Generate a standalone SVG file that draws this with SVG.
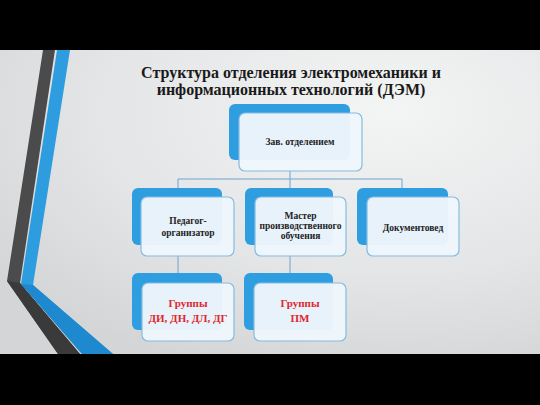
<svg xmlns="http://www.w3.org/2000/svg" width="540" height="405" viewBox="0 0 540 405">
  <defs>
    <radialGradient id="bg" cx="0.72" cy="0.2" r="0.9">
      <stop offset="0" stop-color="#f3f4f4"/>
      <stop offset="0.6" stop-color="#e4e5e6"/>
      <stop offset="1" stop-color="#d3d5d6"/>
    </radialGradient>
    <style>
      .back { fill: #2f9ee0; }
      .front { fill: #eef6fc; fill-opacity: 0.96; stroke: #86bce0; stroke-width: 1.2; }
      .conn { stroke: #6fa3cc; stroke-width: 1; fill: none; }
      .title { font-family: "Liberation Serif", "Times New Roman", serif; font-weight: bold; font-size: 16px; fill: #1a1a1a; text-anchor: middle; }
      .lbl { font-family: "Liberation Serif", "Times New Roman", serif; font-weight: bold; font-size: 9.5px; fill: #222; text-anchor: middle; }
      .red { font-family: "Liberation Serif", "Times New Roman", serif; font-weight: bold; font-size: 11px; fill: #e0262c; text-anchor: middle; }
    </style>
  </defs>
  <rect x="0" y="0" width="540" height="405" fill="#000"/>
  <rect x="0" y="50" width="540" height="304" fill="url(#bg)"/>

  <g id="decor">
    <polygon points="43,50 55,50 20,283 80,354 58,354 7,281" fill="#4b4b4b"/>
    <polygon points="7,281 20,283 80,354 58,354" fill="#3a3a3a"/>
    <polygon points="57,50 70,50 33,285 113,354 82,354 21,284" fill="#2d9de0"/>
    <polygon points="21,284 33,285 113,354 82,354" fill="#1f89cf"/>
  </g>

  <g id="title">
    <text class="title" x="291" y="78">Структура отделения электромеханики и</text>
    <text class="title" x="291" y="95">информационных технологий (ДЭМ)</text>
  </g>

  <g id="connectors">
    <line class="conn" x1="290" y1="171" x2="290" y2="188"/>
    <polyline class="conn" points="178,188 178,179 402,179 402,188"/>
    <line class="conn" x1="178" y1="256" x2="178" y2="273"/>
    <line class="conn" x1="290" y1="256" x2="290" y2="273"/>
  </g>

  <g id="head">
    <rect class="back" x="229" y="104" width="121" height="56" rx="6"/>
    <rect class="front" x="239" y="113" width="123" height="58" rx="6"/>
    <text class="lbl" x="300" y="145" font-size="10">Зав. отделением</text>
  </g>

  <g id="pedagog">
    <rect class="back" x="132" y="188" width="90" height="57" rx="6"/>
    <rect class="front" x="141" y="197" width="93" height="59" rx="6"/>
    <text class="lbl" x="188" y="224">Педагог-</text>
    <text class="lbl" x="188" y="236">организатор</text>
  </g>

  <g id="master">
    <rect class="back" x="245" y="188" width="88" height="57" rx="6"/>
    <rect class="front" x="255" y="197" width="91" height="59" rx="6"/>
    <text class="lbl" x="300.5" y="219">Мастер</text>
    <text class="lbl" x="300.5" y="229">производственного</text>
    <text class="lbl" x="300.5" y="239">обучения</text>
  </g>

  <g id="doc">
    <rect class="back" x="357" y="188" width="91" height="57" rx="6"/>
    <rect class="front" x="367" y="197" width="92" height="59" rx="6"/>
    <text class="lbl" x="413" y="231">Документовед</text>
  </g>

  <g id="groups1">
    <rect class="back" x="132" y="273" width="90" height="57" rx="6"/>
    <rect class="front" x="142" y="283" width="92" height="58" rx="6"/>
    <text class="red" x="188" y="307">Группы</text>
    <text class="red" x="188" y="322">ДИ, ДН, ДЛ, ДГ</text>
  </g>

  <g id="groups2">
    <rect class="back" x="244" y="273" width="89" height="57" rx="6"/>
    <rect class="front" x="254" y="283" width="92" height="58" rx="6"/>
    <text class="red" x="300" y="307">Группы</text>
    <text class="red" x="300" y="322">ПМ</text>
  </g>
</svg>
